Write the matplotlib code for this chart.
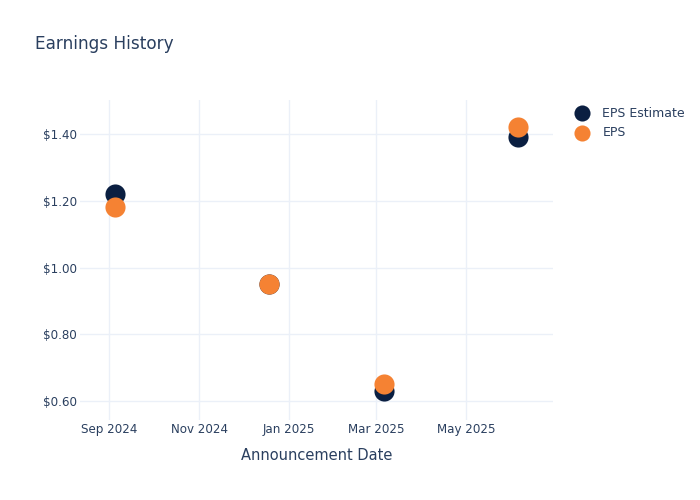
import numpy as np
import matplotlib.pyplot as plt
import matplotlib.dates as mdates
from matplotlib.ticker import FuncFormatter
import datetime as dt

dates = ['2024-09-05', '2024-12-18', '2025-03-06', '2025-06-05']
eps_estimate = [1.22, 0.95, 0.63, 1.39]
eps_actual = [1.18, 0.95, 0.65, 1.42]

navy = '#0b1f41'
orange = '#f58233'
txt = '#2a3f5f'
grid = '#ebf0f8'

x = [dt.datetime.strptime(d, '%Y-%m-%d') for d in dates]

fig = plt.figure(figsize=(7, 5), dpi=100)
ax = fig.add_axes([80/700, 80/500, 473/700, 320/500])

ax.scatter(x, eps_estimate, s=210, color=navy, label='EPS Estimate', zorder=3, linewidths=0)
ax.scatter(x, eps_actual, s=210, color=orange, label='EPS', zorder=4, linewidths=0)

ax.set_xlim(dt.datetime(2024, 8, 12), dt.datetime(2025, 6, 29))
ax.set_ylim(0.543, 1.502)
ax.xaxis.set_major_locator(mdates.MonthLocator(bymonth=[1, 3, 5, 9, 11]))
ax.xaxis.set_major_formatter(mdates.DateFormatter('%b %Y'))
ax.set_yticks([0.6, 0.8, 1.0, 1.2, 1.4])
ax.yaxis.set_major_formatter(FuncFormatter(lambda v, p: '${:.2f}'.format(v)))

for s in ax.spines.values():
    s.set_visible(False)
ax.grid(True, color=grid, lw=1)
ax.set_axisbelow(True)
ax.tick_params(length=0, labelsize=8.6, labelcolor=txt)
ax.tick_params(axis='x', pad=2)
ax.tick_params(axis='y', pad=2)
ax.set_xlabel('Announcement Date', fontsize=10.5, color=txt, labelpad=9)

fig.text(35/700, 1 - 44/500, 'Earnings History', fontsize=12.2, color=txt, va='center', ha='left')

leg = ax.legend(loc='upper left', bbox_to_anchor=(1.025, 0.995), frameon=False, fontsize=9,
                labelcolor=txt, markerscale=0.8, handletextpad=0.6, labelspacing=0.5,
                borderaxespad=0)

fig.savefig('out.png', dpi=100)
